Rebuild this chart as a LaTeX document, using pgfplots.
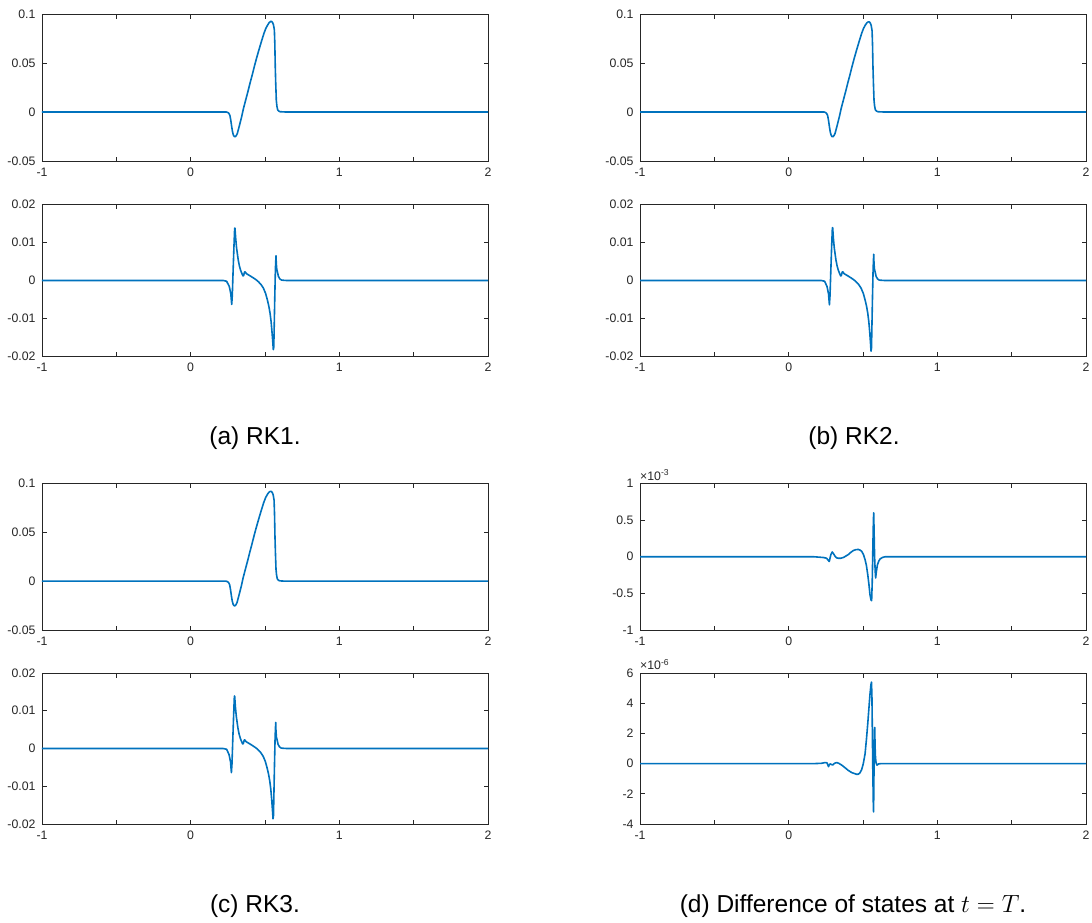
\documentclass[border=0pt]{standalone}
\usepackage{fontspec}
\setmainfont{Liberation Sans}
\usepackage{pgfplots}
\pgfplotsset{compat=1.18}
\usepackage{pgfplotstable}

\definecolor{mblue}{HTML}{0072BD}
\definecolor{mgray}{HTML}{262626}

% ---------- data ----------
\pgfplotstableread{
x y
-1 0
0.20 0
0.240 0
0.248 -0.0004
0.256 -0.0012
0.264 -0.0035
0.270 -0.0085
0.276 -0.0150
0.282 -0.0205
0.288 -0.0238
0.294 -0.0251
0.300 -0.0252
0.307 -0.0240
0.314 -0.0218
0.326 -0.0150
0.343 -0.0048
0.355 0.0035
0.370 0.0122
0.385 0.0208
0.399 0.0293
0.414 0.0378
0.428 0.0463
0.443 0.0548
0.459 0.0633
0.476 0.0720
0.493 0.0803
0.506 0.0855
0.518 0.0888
0.528 0.0912
0.538 0.0925
0.545 0.0924
0.551 0.0912
0.557 0.0890
0.563 0.0837
0.566 0.0700
0.569 0.0463
0.572 0.0300
0.576 0.0122
0.580 0.0060
0.585 0.0023
0.592 0.0010
0.601 0.0003
0.640 0
2 0
}\topA

\pgfplotstableread{
x y
-1 0
0.20 0
0.238 0
0.246 -0.0004
0.254 -0.0012
0.262 -0.0035
0.268 -0.0085
0.274 -0.0150
0.280 -0.0205
0.286 -0.0238
0.292 -0.0251
0.298 -0.0252
0.305 -0.0240
0.312 -0.0218
0.324 -0.0150
0.341 -0.0048
0.353 0.0035
0.368 0.0122
0.383 0.0208
0.397 0.0293
0.412 0.0378
0.426 0.0463
0.441 0.0548
0.457 0.0633
0.474 0.0720
0.491 0.0803
0.504 0.0855
0.516 0.0888
0.526 0.0910
0.536 0.0920
0.543 0.0919
0.549 0.0908
0.555 0.0885
0.561 0.0830
0.564 0.0690
0.567 0.0460
0.570 0.0300
0.574 0.0122
0.578 0.0060
0.583 0.0023
0.590 0.0010
0.600 0.0003
0.640 0
2 0
}\topB

\pgfplotstableread{
x y
-1 0
0.20 0
0.238 0
0.246 -0.0004
0.254 -0.0012
0.262 -0.0035
0.268 -0.0085
0.274 -0.0150
0.280 -0.0205
0.286 -0.0238
0.292 -0.0251
0.298 -0.0252
0.305 -0.0240
0.312 -0.0218
0.324 -0.0150
0.341 -0.0048
0.353 0.0035
0.368 0.0122
0.383 0.0208
0.397 0.0293
0.412 0.0378
0.426 0.0463
0.441 0.0548
0.457 0.0633
0.474 0.0720
0.491 0.0803
0.504 0.0855
0.516 0.0888
0.526 0.0910
0.536 0.0920
0.543 0.0919
0.549 0.0908
0.555 0.0885
0.561 0.0830
0.564 0.0690
0.567 0.0460
0.570 0.0300
0.574 0.0122
0.578 0.0060
0.583 0.0023
0.590 0.0010
0.600 0.0003
0.640 0
2 0
}\topC

\pgfplotstableread{
x y
-1 0
0.219 0
0.242 -0.0002
0.260 -0.0016
0.270 -0.0035
0.276 -0.0063
0.280 -0.0040
0.285 0.0020
0.291 0.0088
0.296 0.0138
0.298 0.0138
0.303 0.0110
0.309 0.0085
0.320 0.0054
0.328 0.0038
0.336 0.0027
0.345 0.0018
0.352 0.0012
0.356 0.0013
0.362 0.0022
0.366 0.0023
0.375 0.0018
0.388 0.0015
0.405 0.0011
0.421 0.0007
0.440 0.0002
0.455 -0.0003
0.472 -0.0010
0.489 -0.0020
0.504 -0.0034
0.516 -0.0051
0.526 -0.0068
0.534 -0.0086
0.541 -0.0108
0.547 -0.0135
0.552 -0.0160
0.556 -0.0182
0.559 -0.0175
0.562 -0.0120
0.566 -0.0040
0.570 0.0030
0.574 0.0065
0.576 0.0045
0.579 0.0030
0.584 0.0022
0.590 0.0011
0.600 0.0004
0.612 0.0001
0.646 0
2 0
}\botA

\pgfplotstableread{
x y
-1 0
0.219 0
0.242 -0.0002
0.258 -0.0016
0.268 -0.0035
0.274 -0.0064
0.278 -0.0040
0.283 0.0020
0.289 0.0088
0.294 0.0139
0.296 0.0139
0.301 0.0110
0.307 0.0085
0.318 0.0054
0.326 0.0038
0.334 0.0027
0.343 0.0018
0.350 0.0012
0.354 0.0013
0.360 0.0022
0.364 0.0023
0.373 0.0018
0.386 0.0015
0.403 0.0011
0.419 0.0007
0.438 0.0002
0.453 -0.0003
0.470 -0.0010
0.487 -0.0020
0.502 -0.0034
0.514 -0.0051
0.524 -0.0068
0.532 -0.0086
0.539 -0.0108
0.545 -0.0135
0.550 -0.0162
0.554 -0.0186
0.557 -0.0178
0.560 -0.0120
0.564 -0.0040
0.568 0.0030
0.572 0.0069
0.574 0.0045
0.577 0.0030
0.582 0.0022
0.588 0.0011
0.598 0.0004
0.610 0.0001
0.646 0
2 0
}\botB

\pgfplotstableread{
x y
-1 0
0.219 0
0.242 -0.0002
0.258 -0.0016
0.268 -0.0035
0.274 -0.0064
0.278 -0.0040
0.283 0.0020
0.289 0.0088
0.294 0.0139
0.296 0.0139
0.301 0.0110
0.307 0.0085
0.318 0.0054
0.326 0.0038
0.334 0.0027
0.343 0.0018
0.350 0.0012
0.354 0.0013
0.360 0.0022
0.364 0.0023
0.373 0.0018
0.386 0.0015
0.403 0.0011
0.419 0.0007
0.438 0.0002
0.453 -0.0003
0.470 -0.0010
0.487 -0.0020
0.502 -0.0034
0.514 -0.0051
0.524 -0.0068
0.532 -0.0086
0.539 -0.0108
0.545 -0.0135
0.550 -0.0162
0.554 -0.0186
0.557 -0.0178
0.560 -0.0120
0.564 -0.0040
0.568 0.0030
0.572 0.0069
0.574 0.0045
0.577 0.0030
0.582 0.0022
0.588 0.0011
0.598 0.0004
0.610 0.0001
0.646 0
2 0
}\botC

% difference, top (units of 1e-3)
\pgfplotstableread{
x y
-1 0
0.17 0
0.233 -0.01
0.255 -0.02
0.267 -0.05
0.273 -0.065
0.278 -0.02
0.284 0.03
0.293 0.065
0.302 0.04
0.311 0.01
0.322 -0.015
0.334 -0.02
0.350 -0.02
0.368 -0.01
0.385 0.01
0.401 0.03
0.418 0.06
0.435 0.085
0.452 0.097
0.469 0.10
0.481 0.09
0.491 0.075
0.503 0.03
0.514 -0.04
0.523 -0.12
0.532 -0.245
0.540 -0.38
0.547 -0.52
0.554 -0.59
0.558 -0.60
0.562 -0.35
0.566 0.10
0.570 0.50
0.572 0.60
0.575 0.30
0.578 0.00
0.582 -0.20
0.585 -0.29
0.590 -0.20
0.597 -0.11
0.606 -0.06
0.615 -0.03
0.630 -0.01
0.648 0
2 0
}\topD

% difference, bottom (units of 1e-6)
\pgfplotstableread{
x y
-1 0
0.17 0
0.22 0.02
0.245 0.07
0.258 0.05
0.264 -0.10
0.268 -0.20
0.272 -0.10
0.278 -0.02
0.286 -0.05
0.296 -0.09
0.310 0.03
0.323 0.07
0.337 0.02
0.357 -0.10
0.380 -0.28
0.401 -0.45
0.425 -0.60
0.446 -0.67
0.458 -0.71
0.469 -0.70
0.480 -0.60
0.491 -0.40
0.502 0.00
0.514 0.66
0.523 1.60
0.532 2.65
0.540 3.70
0.547 4.60
0.553 5.20
0.557 5.40
0.560 4.50
0.563 2.00
0.566 -0.50
0.569 -2.50
0.571 -3.20
0.573 -1.50
0.575 0.80
0.577 2.20
0.579 2.40
0.581 1.20
0.584 0.40
0.588 0.05
0.594 -0.10
0.605 -0.02
0.620 0
2 0
}\botD

\pgfplotsset{
  mat/.style={
    scale only axis,
    width=446pt,
    xmin=-1, xmax=2,
    xtick={-1,-0.5,0,0.5,1,1.5,2},
    xticklabels={-1,,0,,1,,2},
    scaled x ticks=false,
    scaled y ticks=false,
    tick align=inside,
    tick pos=both,
    major tick length=4.5pt,
    axis line style={mgray, line width=0.9pt},
    every tick/.style={mgray, line width=0.9pt},
    tick label style={font=\fontsize{12.3}{14}\selectfont, text=mgray},
    yticklabel style={xshift=-3pt},
    xticklabel style={yshift=-3pt},
    anchor=north west,
    clip=false,
  },
  curve/.style={mblue, line width=1.6pt, line join=round, no marks},
  topax/.style={mat, height=147pt, ymin=-0.05, ymax=0.1,
    ytick={-0.05,0,0.05,0.1}, yticklabels={-0.05,0,0.05,0.1}},
  botax/.style={mat, height=152pt, ymin=-0.02, ymax=0.02,
    ytick={-0.02,-0.01,0,0.01,0.02}, yticklabels={-0.02,-0.01,0,0.01,0.02}},
}

\newcommand{\capfont}{\fontsize{24.5}{29}\selectfont}

\begin{document}
\begin{tikzpicture}
\path[use as bounding box] (0pt,0pt) rectangle (1092pt,-922pt);

% (a)
\begin{axis}[topax, at={(42pt,-14pt)}]
\addplot[curve] table[x=x,y=y] {\topA};
\end{axis}
\begin{axis}[botax, at={(42pt,-204.5pt)}]
\addplot[curve] table[x=x,y=y] {\botA};
\end{axis}
\node[anchor=base, inner sep=0pt] at (255pt,-444.5pt) {\capfont (a) RK1.};

% (b)
\begin{axis}[topax, at={(640pt,-14pt)}]
\addplot[curve] table[x=x,y=y] {\topB};
\end{axis}
\begin{axis}[botax, at={(640pt,-204.5pt)}]
\addplot[curve] table[x=x,y=y] {\botB};
\end{axis}
\node[anchor=base, inner sep=0pt] at (854pt,-444.5pt) {\capfont (b) RK2.};

% (c)
\begin{axis}[topax, height=146.5pt, at={(42pt,-483.5pt)}]
\addplot[curve] table[x=x,y=y] {\topC};
\end{axis}
\begin{axis}[botax, height=151pt, at={(42pt,-673pt)}]
\addplot[curve] table[x=x,y=y] {\botC};
\end{axis}
\node[anchor=base, inner sep=0pt] at (255pt,-912pt) {\capfont (c) RK3.};

% (d)
\begin{axis}[mat, height=146.5pt, at={(640pt,-483.5pt)},
  ymin=-1, ymax=1, ytick={-1,-0.5,0,0.5,1}, yticklabels={-1,-0.5,0,0.5,1}]
\addplot[curve] table[x=x,y=y] {\topD};
\node[anchor=south west, inner sep=0pt, text=mgray, font=\fontsize{12.3}{14}\selectfont]
  at (rel axis cs:0,1) [yshift=3pt] {×10\textsuperscript{-3}};
\end{axis}
\begin{axis}[mat, height=151pt, at={(640pt,-673pt)},
  ymin=-4, ymax=6, ytick={-4,-2,0,2,4,6}, yticklabels={-4,-2,0,2,4,6}]
\addplot[curve] table[x=x,y=y] {\botD};
\node[anchor=south west, inner sep=0pt, text=mgray, font=\fontsize{12.3}{14}\selectfont]
  at (rel axis cs:0,1) [yshift=3pt] {×10\textsuperscript{-6}};
\end{axis}
\node[anchor=base, inner sep=0pt] at (853pt,-912pt) {\capfont (d) Difference of states at $t = T$.};

\end{tikzpicture}
\end{document}
